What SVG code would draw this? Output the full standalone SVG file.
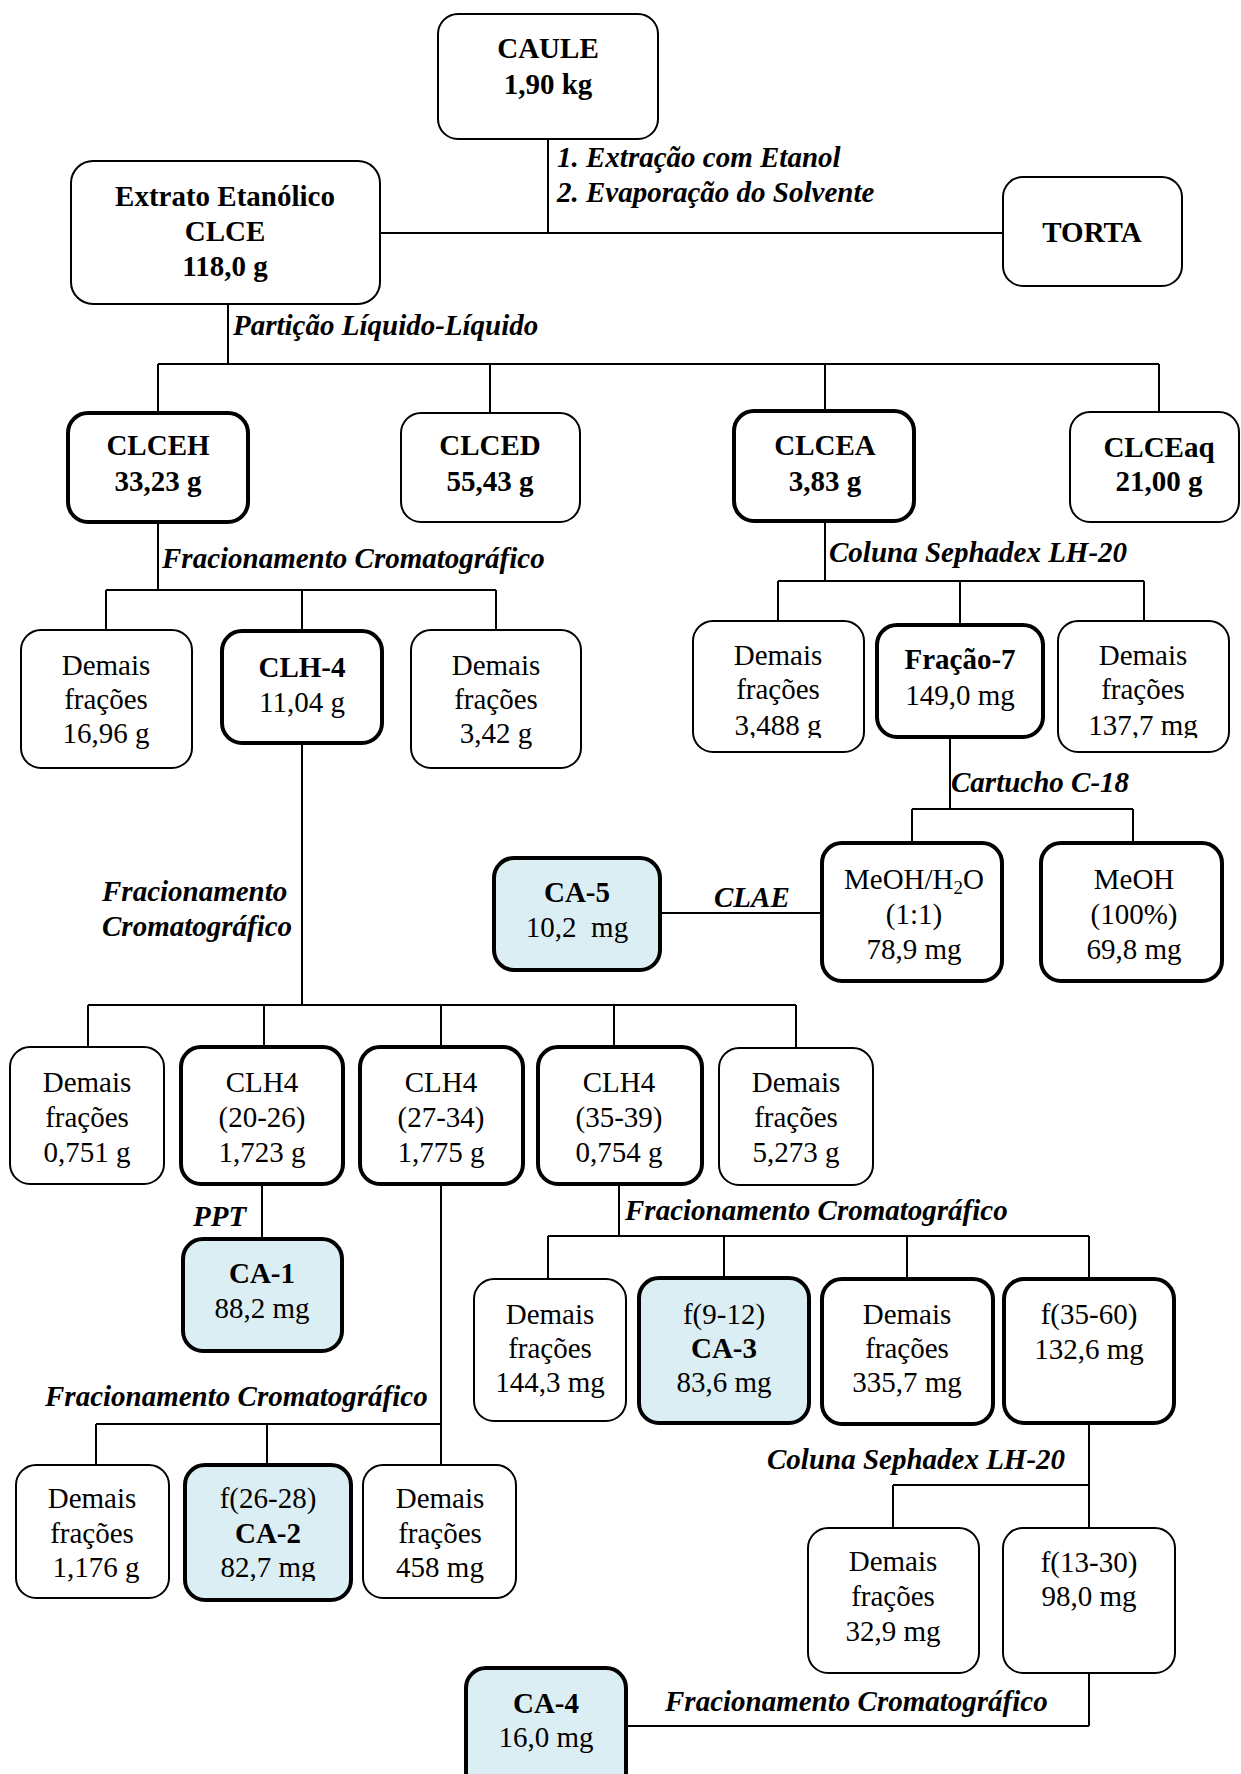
<svg xmlns="http://www.w3.org/2000/svg" width="1241" height="1774" viewBox="0 0 1241 1774">
  <style>
    .box { fill: #ffffff; stroke: #000000; stroke-width: 2; }
    .thick { stroke-width: 4; }
    .pure { fill: #dbeef3; }
    .t { font-family: "Liberation Serif", "Times New Roman", serif; font-size: 29px; text-anchor: middle; fill: #000000; }
    .b { font-weight: bold; }
    .lab { font-family: "Liberation Serif", "Times New Roman", serif; font-size: 29px; font-weight: bold; font-style: italic; fill: #000000; }
    .conn { stroke: #000000; stroke-width: 2; fill: none; }
  </style>
  <defs>
    <clipPath id="clipRowA"><rect x="600" y="600" width="641" height="138"/></clipPath>
    <clipPath id="clipCA2"><rect x="180" y="1460" width="180" height="121"/></clipPath>
  </defs>
  <rect width="1241" height="1774" fill="#ffffff"/>

  <!-- connectors -->
  <g id="connectors" class="conn">
    <path d="M548 139 V233 M380 233 H1003"/>
    <path d="M228 304 V364 M158 364 H1159 M158 364 V413 M490 364 V413 M825 364 V411 M1159 364 V412"/>
    <path d="M158 522 V590 M106 590 H496 M106 590 V630 M302 590 V631 M496 590 V630"/>
    <path d="M825 521 V581 M778 581 H1144 M778 581 V621 M960 581 V625 M1144 581 V621"/>
    <path d="M950 737 V809 M912 809 H1133 M912 809 V843 M1133 809 V843"/>
    <path d="M660 913 H822"/>
    <path d="M302 743 V1005 M88 1005 H796 M88 1005 V1047 M264 1005 V1047 M441 1005 V1047 M614 1005 V1047 M796 1005 V1048"/>
    <path d="M262 1184 V1239"/>
    <path d="M441 1184 V1465 M96 1424 H441 M96 1424 V1465 M267 1424 V1465"/>
    <path d="M619 1184 V1236 M548 1236 H1089 M548 1236 V1279 M724 1236 V1278 M907 1236 V1279 M1089 1236 V1279"/>
    <path d="M1089 1423 V1528 M893 1485 H1089 M893 1485 V1528"/>
    <path d="M1089 1673 V1726 M626 1726 H1089"/>
  </g>

  <!-- step labels -->
  <g id="labels">
    <text class="lab" x="557" y="167">1. Extração com Etanol</text>
    <text class="lab" x="557" y="202">2. Evaporação do Solvente</text>
    <text class="lab" x="233" y="335">Partição Líquido-Líquido</text>
    <text class="lab" x="162" y="568">Fracionamento Cromatográfico</text>
    <text class="lab" x="829" y="562">Coluna Sephadex LH-20</text>
    <text class="lab" x="951" y="792">Cartucho C-18</text>
    <text class="lab" x="714" y="907">CLAE</text>
    <text class="lab" x="102" y="901">Fracionamento</text>
    <text class="lab" x="102" y="936">Cromatográfico</text>
    <text class="lab" x="193" y="1226">PPT</text>
    <text class="lab" x="625" y="1220">Fracionamento Cromatográfico</text>
    <text class="lab" x="45" y="1406">Fracionamento Cromatográfico</text>
    <text class="lab" x="767" y="1469">Coluna Sephadex LH-20</text>
    <text class="lab" x="665" y="1711">Fracionamento Cromatográfico</text>
  </g>

  <!-- nodes -->
  <g id="caule">
    <rect class="box" x="438" y="14" width="220" height="125" rx="20"/>
    <text class="t b" x="548" y="58">CAULE</text>
    <text class="t b" x="548" y="94">1,90 kg</text>
  </g>
  <g id="torta">
    <rect class="box" x="1003" y="177" width="179" height="109" rx="20"/>
    <text class="t b" x="1092" y="242">TORTA</text>
  </g>
  <g id="clce">
    <rect class="box" x="71" y="161" width="309" height="143" rx="22"/>
    <text class="t b" x="225" y="206">Extrato Etanólico</text>
    <text class="t b" x="225" y="241">CLCE</text>
    <text class="t b" x="225" y="276">118,0 g</text>
  </g>

  <g id="clceh">
    <rect class="box thick" x="68" y="413" width="180" height="109" rx="20"/>
    <text class="t b" x="158" y="455">CLCEH</text>
    <text class="t b" x="158" y="491">33,23 g</text>
  </g>
  <g id="clced">
    <rect class="box" x="401" y="413" width="179" height="109" rx="20"/>
    <text class="t b" x="490" y="455">CLCED</text>
    <text class="t b" x="490" y="491">55,43 g</text>
  </g>
  <g id="clcea">
    <rect class="box thick" x="734" y="411" width="180" height="110" rx="20"/>
    <text class="t b" x="825" y="455">CLCEA</text>
    <text class="t b" x="825" y="491">3,83 g</text>
  </g>
  <g id="clceaq">
    <rect class="box" x="1070" y="412" width="169" height="110" rx="20"/>
    <text class="t b" x="1159" y="457">CLCEaq</text>
    <text class="t b" x="1159" y="491">21,00 g</text>
  </g>

  <g id="clceh-demais-1">
    <rect class="box" x="21" y="630" width="171" height="138" rx="20"/>
    <text class="t" x="106" y="675">Demais</text>
    <text class="t" x="106" y="709">frações</text>
    <text class="t" x="106" y="743">16,96 g</text>
  </g>
  <g id="clh-4">
    <rect class="box thick" x="222" y="631" width="160" height="112" rx="20"/>
    <text class="t b" x="302" y="677">CLH-4</text>
    <text class="t" x="302" y="712">11,04 g</text>
  </g>
  <g id="clceh-demais-2">
    <rect class="box" x="411" y="630" width="170" height="138" rx="20"/>
    <text class="t" x="496" y="675">Demais</text>
    <text class="t" x="496" y="709">frações</text>
    <text class="t" x="496" y="743">3,42 g</text>
  </g>

  <g id="clcea-demais-1">
    <rect class="box" x="693" y="621" width="171" height="131" rx="20"/>
    <text class="t" x="778" y="665">Demais</text>
    <text class="t" x="778" y="699">frações</text>
    <text class="t" x="778" y="735" clip-path="url(#clipRowA)">3,488 g</text>
  </g>
  <g id="fracao-7">
    <rect class="box thick" x="877" y="625" width="166" height="112" rx="20"/>
    <text class="t b" x="960" y="669">Fração-7</text>
    <text class="t" x="960" y="705">149,0 mg</text>
  </g>
  <g id="clcea-demais-2">
    <rect class="box" x="1058" y="621" width="171" height="131" rx="20"/>
    <text class="t" x="1143" y="665">Demais</text>
    <text class="t" x="1143" y="699">frações</text>
    <text class="t" x="1143" y="735" clip-path="url(#clipRowA)">137,7 mg</text>
  </g>

  <g id="meoh-h2o">
    <rect class="box thick" x="822" y="843" width="180" height="138" rx="20"/>
    <text class="t" x="914" y="889">MeOH/H<tspan font-size="19" dy="5">2</tspan><tspan dy="-5">O</tspan></text>
    <text class="t" x="914" y="924">(1:1)</text>
    <text class="t" x="914" y="959">78,9 mg</text>
  </g>
  <g id="meoh">
    <rect class="box thick" x="1041" y="843" width="181" height="138" rx="20"/>
    <text class="t" x="1134" y="889">MeOH</text>
    <text class="t" x="1134" y="924">(100%)</text>
    <text class="t" x="1134" y="959">69,8 mg</text>
  </g>
  <g id="ca-5">
    <rect class="box thick pure" x="494" y="858" width="166" height="112" rx="20"/>
    <text class="t b" x="577" y="902">CA-5</text>
    <text class="t" x="577" y="937" xml:space="preserve">10,2  mg</text>
  </g>

  <g id="clh4-demais-1">
    <rect class="box" x="10" y="1047" width="154" height="137" rx="20"/>
    <text class="t" x="87" y="1092">Demais</text>
    <text class="t" x="87" y="1127">frações</text>
    <text class="t" x="87" y="1162">0,751 g</text>
  </g>
  <g id="clh4-20-26">
    <rect class="box thick" x="181" y="1047" width="162" height="137" rx="20"/>
    <text class="t" x="262" y="1092">CLH4</text>
    <text class="t" x="262" y="1127">(20-26)</text>
    <text class="t" x="262" y="1162">1,723 g</text>
  </g>
  <g id="clh4-27-34">
    <rect class="box thick" x="360" y="1047" width="163" height="137" rx="20"/>
    <text class="t" x="441" y="1092">CLH4</text>
    <text class="t" x="441" y="1127">(27-34)</text>
    <text class="t" x="441" y="1162">1,775 g</text>
  </g>
  <g id="clh4-35-39">
    <rect class="box thick" x="538" y="1047" width="164" height="137" rx="20"/>
    <text class="t" x="619" y="1092">CLH4</text>
    <text class="t" x="619" y="1127">(35-39)</text>
    <text class="t" x="619" y="1162">0,754 g</text>
  </g>
  <g id="clh4-demais-2">
    <rect class="box" x="719" y="1048" width="154" height="137" rx="20"/>
    <text class="t" x="796" y="1092">Demais</text>
    <text class="t" x="796" y="1127">frações</text>
    <text class="t" x="796" y="1162">5,273 g</text>
  </g>

  <g id="ca-1">
    <rect class="box thick pure" x="183" y="1239" width="159" height="112" rx="20"/>
    <text class="t b" x="262" y="1283">CA-1</text>
    <text class="t" x="262" y="1318">88,2 mg</text>
  </g>

  <g id="clh4c-demais-1">
    <rect class="box" x="474" y="1279" width="152" height="142" rx="20"/>
    <text class="t" x="550" y="1324">Demais</text>
    <text class="t" x="550" y="1358">frações</text>
    <text class="t" x="550" y="1392">144,3 mg</text>
  </g>
  <g id="ca-3">
    <rect class="box thick pure" x="639" y="1278" width="170" height="145" rx="20"/>
    <text class="t" x="724" y="1324">f(9-12)</text>
    <text class="t b" x="724" y="1358">CA-3</text>
    <text class="t" x="724" y="1392">83,6 mg</text>
  </g>
  <g id="clh4c-demais-2">
    <rect class="box thick" x="822" y="1279" width="171" height="145" rx="20"/>
    <text class="t" x="907" y="1324">Demais</text>
    <text class="t" x="907" y="1358">frações</text>
    <text class="t" x="907" y="1392">335,7 mg</text>
  </g>
  <g id="f35-60">
    <rect class="box thick" x="1004" y="1279" width="170" height="144" rx="20"/>
    <text class="t" x="1089" y="1324">f(35-60)</text>
    <text class="t" x="1089" y="1359">132,6 mg</text>
  </g>

  <g id="clh4b-demais-1">
    <rect class="box" x="16" y="1465" width="153" height="133" rx="20"/>
    <text class="t" x="92" y="1508">Demais</text>
    <text class="t" x="92" y="1543">frações</text>
    <text class="t" x="96" y="1577">1,176 g</text>
  </g>
  <g id="ca-2">
    <rect class="box thick pure" x="185" y="1465" width="166" height="135" rx="20"/>
    <text class="t" x="268" y="1508">f(26-28)</text>
    <text class="t b" x="268" y="1543">CA-2</text>
    <text class="t" x="268" y="1577" clip-path="url(#clipCA2)">82,7 mg</text>
  </g>
  <g id="clh4b-demais-2">
    <rect class="box" x="363" y="1465" width="153" height="133" rx="20"/>
    <text class="t" x="440" y="1508">Demais</text>
    <text class="t" x="440" y="1543">frações</text>
    <text class="t" x="440" y="1577">458 mg</text>
  </g>

  <g id="f35-60-demais">
    <rect class="box" x="808" y="1528" width="171" height="145" rx="20"/>
    <text class="t" x="893" y="1571">Demais</text>
    <text class="t" x="893" y="1606">frações</text>
    <text class="t" x="893" y="1641">32,9 mg</text>
  </g>
  <g id="f13-30">
    <rect class="box" x="1003" y="1528" width="172" height="145" rx="20"/>
    <text class="t" x="1089" y="1572">f(13-30)</text>
    <text class="t" x="1089" y="1606">98,0 mg</text>
  </g>
  <g id="ca-4">
    <rect class="box thick pure" x="466" y="1668" width="160" height="130" rx="20"/>
    <text class="t b" x="546" y="1713">CA-4</text>
    <text class="t" x="546" y="1747">16,0 mg</text>
  </g>
</svg>
